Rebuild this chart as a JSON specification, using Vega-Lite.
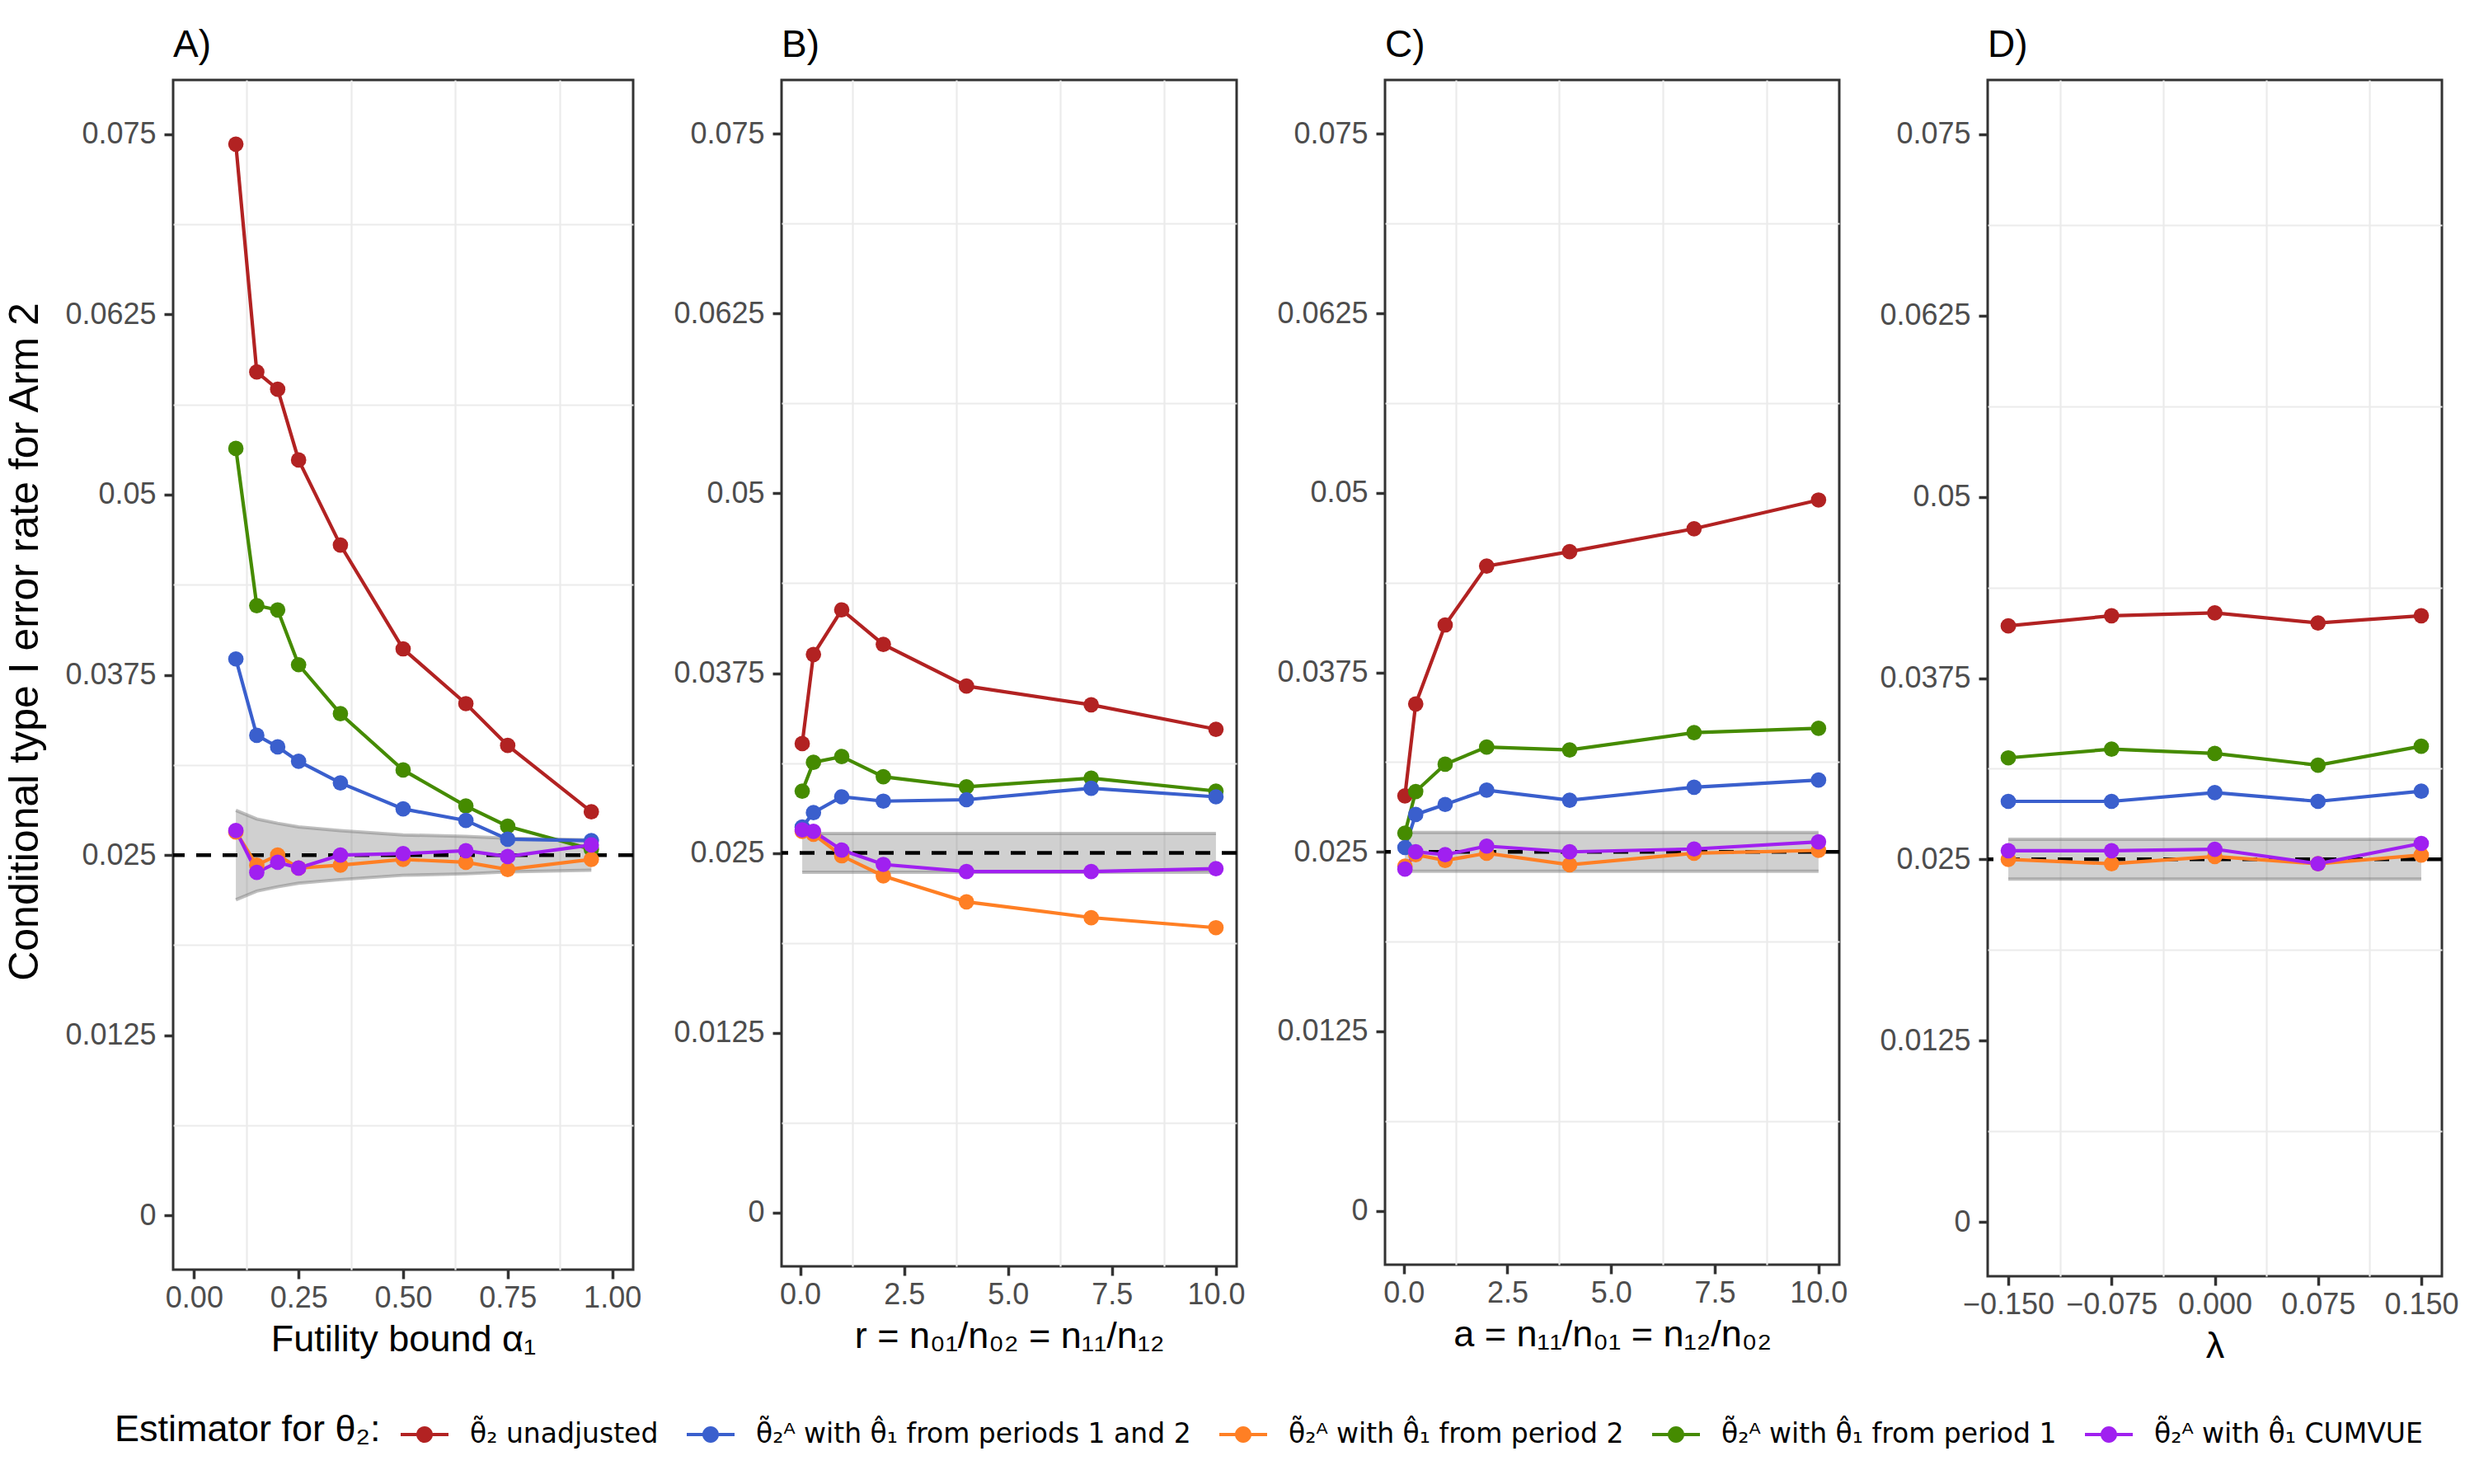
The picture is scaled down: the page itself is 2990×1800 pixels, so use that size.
{
  "$schema": "https://vega.github.io/schema/vega-lite/v6.json",
  "background": "white",
  "padding": {"left": 3, "top": 30, "right": 0, "bottom": 0},
  "bounds": "flush",
  "spacing": 180,
  "datasets": {
    "A": [
      {"x":0.1,"y":0.0743,"estimator":"\u03b8\u0303\u2082 unadjusted"},
      {"x":0.15,"y":0.0585,"estimator":"\u03b8\u0303\u2082 unadjusted"},
      {"x":0.2,"y":0.0573,"estimator":"\u03b8\u0303\u2082 unadjusted"},
      {"x":0.25,"y":0.0524,"estimator":"\u03b8\u0303\u2082 unadjusted"},
      {"x":0.35,"y":0.0465,"estimator":"\u03b8\u0303\u2082 unadjusted"},
      {"x":0.5,"y":0.0393,"estimator":"\u03b8\u0303\u2082 unadjusted"},
      {"x":0.65,"y":0.0355,"estimator":"\u03b8\u0303\u2082 unadjusted"},
      {"x":0.75,"y":0.0326,"estimator":"\u03b8\u0303\u2082 unadjusted"},
      {"x":0.95,"y":0.0280,"estimator":"\u03b8\u0303\u2082 unadjusted"},
      {"x":0.1,"y":0.0532,"estimator":"\u03b8\u0303\u2082\u1d2c with \u03b8\u0302\u2081 from period 1"},
      {"x":0.15,"y":0.0423,"estimator":"\u03b8\u0303\u2082\u1d2c with \u03b8\u0302\u2081 from period 1"},
      {"x":0.2,"y":0.0420,"estimator":"\u03b8\u0303\u2082\u1d2c with \u03b8\u0302\u2081 from period 1"},
      {"x":0.25,"y":0.0382,"estimator":"\u03b8\u0303\u2082\u1d2c with \u03b8\u0302\u2081 from period 1"},
      {"x":0.35,"y":0.0348,"estimator":"\u03b8\u0303\u2082\u1d2c with \u03b8\u0302\u2081 from period 1"},
      {"x":0.5,"y":0.0309,"estimator":"\u03b8\u0303\u2082\u1d2c with \u03b8\u0302\u2081 from period 1"},
      {"x":0.65,"y":0.0284,"estimator":"\u03b8\u0303\u2082\u1d2c with \u03b8\u0302\u2081 from period 1"},
      {"x":0.75,"y":0.0270,"estimator":"\u03b8\u0303\u2082\u1d2c with \u03b8\u0302\u2081 from period 1"},
      {"x":0.95,"y":0.0254,"estimator":"\u03b8\u0303\u2082\u1d2c with \u03b8\u0302\u2081 from period 1"},
      {"x":0.1,"y":0.0266,"estimator":"\u03b8\u0303\u2082\u1d2c with \u03b8\u0302\u2081 from period 2"},
      {"x":0.15,"y":0.0243,"estimator":"\u03b8\u0303\u2082\u1d2c with \u03b8\u0302\u2081 from period 2"},
      {"x":0.2,"y":0.0250,"estimator":"\u03b8\u0303\u2082\u1d2c with \u03b8\u0302\u2081 from period 2"},
      {"x":0.25,"y":0.0241,"estimator":"\u03b8\u0303\u2082\u1d2c with \u03b8\u0302\u2081 from period 2"},
      {"x":0.35,"y":0.0243,"estimator":"\u03b8\u0303\u2082\u1d2c with \u03b8\u0302\u2081 from period 2"},
      {"x":0.5,"y":0.0247,"estimator":"\u03b8\u0303\u2082\u1d2c with \u03b8\u0302\u2081 from period 2"},
      {"x":0.65,"y":0.0245,"estimator":"\u03b8\u0303\u2082\u1d2c with \u03b8\u0302\u2081 from period 2"},
      {"x":0.75,"y":0.0240,"estimator":"\u03b8\u0303\u2082\u1d2c with \u03b8\u0302\u2081 from period 2"},
      {"x":0.95,"y":0.0247,"estimator":"\u03b8\u0303\u2082\u1d2c with \u03b8\u0302\u2081 from period 2"},
      {"x":0.1,"y":0.0386,"estimator":"\u03b8\u0303\u2082\u1d2c with \u03b8\u0302\u2081 from periods 1 and 2"},
      {"x":0.15,"y":0.0333,"estimator":"\u03b8\u0303\u2082\u1d2c with \u03b8\u0302\u2081 from periods 1 and 2"},
      {"x":0.2,"y":0.0325,"estimator":"\u03b8\u0303\u2082\u1d2c with \u03b8\u0302\u2081 from periods 1 and 2"},
      {"x":0.25,"y":0.0315,"estimator":"\u03b8\u0303\u2082\u1d2c with \u03b8\u0302\u2081 from periods 1 and 2"},
      {"x":0.35,"y":0.0300,"estimator":"\u03b8\u0303\u2082\u1d2c with \u03b8\u0302\u2081 from periods 1 and 2"},
      {"x":0.5,"y":0.0282,"estimator":"\u03b8\u0303\u2082\u1d2c with \u03b8\u0302\u2081 from periods 1 and 2"},
      {"x":0.65,"y":0.0274,"estimator":"\u03b8\u0303\u2082\u1d2c with \u03b8\u0302\u2081 from periods 1 and 2"},
      {"x":0.75,"y":0.0261,"estimator":"\u03b8\u0303\u2082\u1d2c with \u03b8\u0302\u2081 from periods 1 and 2"},
      {"x":0.95,"y":0.0260,"estimator":"\u03b8\u0303\u2082\u1d2c with \u03b8\u0302\u2081 from periods 1 and 2"},
      {"x":0.1,"y":0.0267,"estimator":"\u03b8\u0303\u2082\u1d2c with \u03b8\u0302\u2081 CUMVUE"},
      {"x":0.15,"y":0.0238,"estimator":"\u03b8\u0303\u2082\u1d2c with \u03b8\u0302\u2081 CUMVUE"},
      {"x":0.2,"y":0.0245,"estimator":"\u03b8\u0303\u2082\u1d2c with \u03b8\u0302\u2081 CUMVUE"},
      {"x":0.25,"y":0.0241,"estimator":"\u03b8\u0303\u2082\u1d2c with \u03b8\u0302\u2081 CUMVUE"},
      {"x":0.35,"y":0.0250,"estimator":"\u03b8\u0303\u2082\u1d2c with \u03b8\u0302\u2081 CUMVUE"},
      {"x":0.5,"y":0.0251,"estimator":"\u03b8\u0303\u2082\u1d2c with \u03b8\u0302\u2081 CUMVUE"},
      {"x":0.65,"y":0.0253,"estimator":"\u03b8\u0303\u2082\u1d2c with \u03b8\u0302\u2081 CUMVUE"},
      {"x":0.75,"y":0.0249,"estimator":"\u03b8\u0303\u2082\u1d2c with \u03b8\u0302\u2081 CUMVUE"},
      {"x":0.95,"y":0.0257,"estimator":"\u03b8\u0303\u2082\u1d2c with \u03b8\u0302\u2081 CUMVUE"}
    ],
    "bandA": [
      {"x":0.1,"lo":0.0219,"hi":0.0281},
      {"x":0.15,"lo":0.0225,"hi":0.0275},
      {"x":0.2,"lo":0.0228,"hi":0.0272},
      {"x":0.25,"lo":0.02305,"hi":0.02695},
      {"x":0.35,"lo":0.0233,"hi":0.0267},
      {"x":0.5,"lo":0.0236,"hi":0.0264},
      {"x":0.65,"lo":0.0237,"hi":0.0263},
      {"x":0.75,"lo":0.02383,"hi":0.02617},
      {"x":0.95,"lo":0.02395,"hi":0.02605}
    ],
    "B": [
      {"x":0.05,"y":0.0326,"estimator":"\u03b8\u0303\u2082 unadjusted"},
      {"x":0.32,"y":0.0388,"estimator":"\u03b8\u0303\u2082 unadjusted"},
      {"x":1,"y":0.0419,"estimator":"\u03b8\u0303\u2082 unadjusted"},
      {"x":2,"y":0.0395,"estimator":"\u03b8\u0303\u2082 unadjusted"},
      {"x":4,"y":0.0366,"estimator":"\u03b8\u0303\u2082 unadjusted"},
      {"x":7,"y":0.0353,"estimator":"\u03b8\u0303\u2082 unadjusted"},
      {"x":10,"y":0.0336,"estimator":"\u03b8\u0303\u2082 unadjusted"},
      {"x":0.05,"y":0.0293,"estimator":"\u03b8\u0303\u2082\u1d2c with \u03b8\u0302\u2081 from period 1"},
      {"x":0.32,"y":0.0313,"estimator":"\u03b8\u0303\u2082\u1d2c with \u03b8\u0302\u2081 from period 1"},
      {"x":1,"y":0.0317,"estimator":"\u03b8\u0303\u2082\u1d2c with \u03b8\u0302\u2081 from period 1"},
      {"x":2,"y":0.0303,"estimator":"\u03b8\u0303\u2082\u1d2c with \u03b8\u0302\u2081 from period 1"},
      {"x":4,"y":0.0296,"estimator":"\u03b8\u0303\u2082\u1d2c with \u03b8\u0302\u2081 from period 1"},
      {"x":7,"y":0.0302,"estimator":"\u03b8\u0303\u2082\u1d2c with \u03b8\u0302\u2081 from period 1"},
      {"x":10,"y":0.0293,"estimator":"\u03b8\u0303\u2082\u1d2c with \u03b8\u0302\u2081 from period 1"},
      {"x":0.05,"y":0.0265,"estimator":"\u03b8\u0303\u2082\u1d2c with \u03b8\u0302\u2081 from period 2"},
      {"x":0.32,"y":0.0263,"estimator":"\u03b8\u0303\u2082\u1d2c with \u03b8\u0302\u2081 from period 2"},
      {"x":1,"y":0.0248,"estimator":"\u03b8\u0303\u2082\u1d2c with \u03b8\u0302\u2081 from period 2"},
      {"x":2,"y":0.0234,"estimator":"\u03b8\u0303\u2082\u1d2c with \u03b8\u0302\u2081 from period 2"},
      {"x":4,"y":0.0216,"estimator":"\u03b8\u0303\u2082\u1d2c with \u03b8\u0302\u2081 from period 2"},
      {"x":7,"y":0.0205,"estimator":"\u03b8\u0303\u2082\u1d2c with \u03b8\u0302\u2081 from period 2"},
      {"x":10,"y":0.0198,"estimator":"\u03b8\u0303\u2082\u1d2c with \u03b8\u0302\u2081 from period 2"},
      {"x":0.05,"y":0.0268,"estimator":"\u03b8\u0303\u2082\u1d2c with \u03b8\u0302\u2081 from periods 1 and 2"},
      {"x":0.32,"y":0.0278,"estimator":"\u03b8\u0303\u2082\u1d2c with \u03b8\u0302\u2081 from periods 1 and 2"},
      {"x":1,"y":0.0289,"estimator":"\u03b8\u0303\u2082\u1d2c with \u03b8\u0302\u2081 from periods 1 and 2"},
      {"x":2,"y":0.0286,"estimator":"\u03b8\u0303\u2082\u1d2c with \u03b8\u0302\u2081 from periods 1 and 2"},
      {"x":4,"y":0.0287,"estimator":"\u03b8\u0303\u2082\u1d2c with \u03b8\u0302\u2081 from periods 1 and 2"},
      {"x":7,"y":0.0295,"estimator":"\u03b8\u0303\u2082\u1d2c with \u03b8\u0302\u2081 from periods 1 and 2"},
      {"x":10,"y":0.0289,"estimator":"\u03b8\u0303\u2082\u1d2c with \u03b8\u0302\u2081 from periods 1 and 2"},
      {"x":0.05,"y":0.0266,"estimator":"\u03b8\u0303\u2082\u1d2c with \u03b8\u0302\u2081 CUMVUE"},
      {"x":0.32,"y":0.0265,"estimator":"\u03b8\u0303\u2082\u1d2c with \u03b8\u0302\u2081 CUMVUE"},
      {"x":1,"y":0.0252,"estimator":"\u03b8\u0303\u2082\u1d2c with \u03b8\u0302\u2081 CUMVUE"},
      {"x":2,"y":0.0242,"estimator":"\u03b8\u0303\u2082\u1d2c with \u03b8\u0302\u2081 CUMVUE"},
      {"x":4,"y":0.0237,"estimator":"\u03b8\u0303\u2082\u1d2c with \u03b8\u0302\u2081 CUMVUE"},
      {"x":7,"y":0.0237,"estimator":"\u03b8\u0303\u2082\u1d2c with \u03b8\u0302\u2081 CUMVUE"},
      {"x":10,"y":0.0239,"estimator":"\u03b8\u0303\u2082\u1d2c with \u03b8\u0302\u2081 CUMVUE"}
    ],
    "bandB": [
      {"x":0.05,"lo":0.02365,"hi":0.02635},
      {"x":10,"lo":0.02365,"hi":0.02635}
    ],
    "C": [
      {"x":0.03,"y":0.0289,"estimator":"\u03b8\u0303\u2082 unadjusted"},
      {"x":0.29,"y":0.0353,"estimator":"\u03b8\u0303\u2082 unadjusted"},
      {"x":1,"y":0.0408,"estimator":"\u03b8\u0303\u2082 unadjusted"},
      {"x":2,"y":0.0449,"estimator":"\u03b8\u0303\u2082 unadjusted"},
      {"x":4,"y":0.0459,"estimator":"\u03b8\u0303\u2082 unadjusted"},
      {"x":7,"y":0.0475,"estimator":"\u03b8\u0303\u2082 unadjusted"},
      {"x":10,"y":0.0495,"estimator":"\u03b8\u0303\u2082 unadjusted"},
      {"x":0.03,"y":0.0263,"estimator":"\u03b8\u0303\u2082\u1d2c with \u03b8\u0302\u2081 from period 1"},
      {"x":0.29,"y":0.0292,"estimator":"\u03b8\u0303\u2082\u1d2c with \u03b8\u0302\u2081 from period 1"},
      {"x":1,"y":0.0311,"estimator":"\u03b8\u0303\u2082\u1d2c with \u03b8\u0302\u2081 from period 1"},
      {"x":2,"y":0.0323,"estimator":"\u03b8\u0303\u2082\u1d2c with \u03b8\u0302\u2081 from period 1"},
      {"x":4,"y":0.0321,"estimator":"\u03b8\u0303\u2082\u1d2c with \u03b8\u0302\u2081 from period 1"},
      {"x":7,"y":0.0333,"estimator":"\u03b8\u0303\u2082\u1d2c with \u03b8\u0302\u2081 from period 1"},
      {"x":10,"y":0.0336,"estimator":"\u03b8\u0303\u2082\u1d2c with \u03b8\u0302\u2081 from period 1"},
      {"x":0.03,"y":0.0240,"estimator":"\u03b8\u0303\u2082\u1d2c with \u03b8\u0302\u2081 from period 2"},
      {"x":0.29,"y":0.0248,"estimator":"\u03b8\u0303\u2082\u1d2c with \u03b8\u0302\u2081 from period 2"},
      {"x":1,"y":0.0244,"estimator":"\u03b8\u0303\u2082\u1d2c with \u03b8\u0302\u2081 from period 2"},
      {"x":2,"y":0.0249,"estimator":"\u03b8\u0303\u2082\u1d2c with \u03b8\u0302\u2081 from period 2"},
      {"x":4,"y":0.0241,"estimator":"\u03b8\u0303\u2082\u1d2c with \u03b8\u0302\u2081 from period 2"},
      {"x":7,"y":0.0249,"estimator":"\u03b8\u0303\u2082\u1d2c with \u03b8\u0302\u2081 from period 2"},
      {"x":10,"y":0.0251,"estimator":"\u03b8\u0303\u2082\u1d2c with \u03b8\u0302\u2081 from period 2"},
      {"x":0.03,"y":0.0253,"estimator":"\u03b8\u0303\u2082\u1d2c with \u03b8\u0302\u2081 from periods 1 and 2"},
      {"x":0.29,"y":0.0276,"estimator":"\u03b8\u0303\u2082\u1d2c with \u03b8\u0302\u2081 from periods 1 and 2"},
      {"x":1,"y":0.0283,"estimator":"\u03b8\u0303\u2082\u1d2c with \u03b8\u0302\u2081 from periods 1 and 2"},
      {"x":2,"y":0.0293,"estimator":"\u03b8\u0303\u2082\u1d2c with \u03b8\u0302\u2081 from periods 1 and 2"},
      {"x":4,"y":0.0286,"estimator":"\u03b8\u0303\u2082\u1d2c with \u03b8\u0302\u2081 from periods 1 and 2"},
      {"x":7,"y":0.0295,"estimator":"\u03b8\u0303\u2082\u1d2c with \u03b8\u0302\u2081 from periods 1 and 2"},
      {"x":10,"y":0.0300,"estimator":"\u03b8\u0303\u2082\u1d2c with \u03b8\u0302\u2081 from periods 1 and 2"},
      {"x":0.03,"y":0.0238,"estimator":"\u03b8\u0303\u2082\u1d2c with \u03b8\u0302\u2081 CUMVUE"},
      {"x":0.29,"y":0.0250,"estimator":"\u03b8\u0303\u2082\u1d2c with \u03b8\u0302\u2081 CUMVUE"},
      {"x":1,"y":0.0248,"estimator":"\u03b8\u0303\u2082\u1d2c with \u03b8\u0302\u2081 CUMVUE"},
      {"x":2,"y":0.0254,"estimator":"\u03b8\u0303\u2082\u1d2c with \u03b8\u0302\u2081 CUMVUE"},
      {"x":4,"y":0.0250,"estimator":"\u03b8\u0303\u2082\u1d2c with \u03b8\u0302\u2081 CUMVUE"},
      {"x":7,"y":0.0252,"estimator":"\u03b8\u0303\u2082\u1d2c with \u03b8\u0302\u2081 CUMVUE"},
      {"x":10,"y":0.0257,"estimator":"\u03b8\u0303\u2082\u1d2c with \u03b8\u0302\u2081 CUMVUE"}
    ],
    "bandC": [
      {"x":0.03,"lo":0.02365,"hi":0.02635},
      {"x":10,"lo":0.02365,"hi":0.02635}
    ],
    "D": [
      {"x":-0.15,"y":0.0411,"estimator":"\u03b8\u0303\u2082 unadjusted"},
      {"x":-0.075,"y":0.0418,"estimator":"\u03b8\u0303\u2082 unadjusted"},
      {"x":0,"y":0.0420,"estimator":"\u03b8\u0303\u2082 unadjusted"},
      {"x":0.075,"y":0.0413,"estimator":"\u03b8\u0303\u2082 unadjusted"},
      {"x":0.15,"y":0.0418,"estimator":"\u03b8\u0303\u2082 unadjusted"},
      {"x":-0.15,"y":0.0320,"estimator":"\u03b8\u0303\u2082\u1d2c with \u03b8\u0302\u2081 from period 1"},
      {"x":-0.075,"y":0.0326,"estimator":"\u03b8\u0303\u2082\u1d2c with \u03b8\u0302\u2081 from period 1"},
      {"x":0,"y":0.0323,"estimator":"\u03b8\u0303\u2082\u1d2c with \u03b8\u0302\u2081 from period 1"},
      {"x":0.075,"y":0.0315,"estimator":"\u03b8\u0303\u2082\u1d2c with \u03b8\u0302\u2081 from period 1"},
      {"x":0.15,"y":0.0328,"estimator":"\u03b8\u0303\u2082\u1d2c with \u03b8\u0302\u2081 from period 1"},
      {"x":-0.15,"y":0.0250,"estimator":"\u03b8\u0303\u2082\u1d2c with \u03b8\u0302\u2081 from period 2"},
      {"x":-0.075,"y":0.0247,"estimator":"\u03b8\u0303\u2082\u1d2c with \u03b8\u0302\u2081 from period 2"},
      {"x":0,"y":0.0252,"estimator":"\u03b8\u0303\u2082\u1d2c with \u03b8\u0302\u2081 from period 2"},
      {"x":0.075,"y":0.0247,"estimator":"\u03b8\u0303\u2082\u1d2c with \u03b8\u0302\u2081 from period 2"},
      {"x":0.15,"y":0.0253,"estimator":"\u03b8\u0303\u2082\u1d2c with \u03b8\u0302\u2081 from period 2"},
      {"x":-0.15,"y":0.0290,"estimator":"\u03b8\u0303\u2082\u1d2c with \u03b8\u0302\u2081 from periods 1 and 2"},
      {"x":-0.075,"y":0.0290,"estimator":"\u03b8\u0303\u2082\u1d2c with \u03b8\u0302\u2081 from periods 1 and 2"},
      {"x":0,"y":0.0296,"estimator":"\u03b8\u0303\u2082\u1d2c with \u03b8\u0302\u2081 from periods 1 and 2"},
      {"x":0.075,"y":0.0290,"estimator":"\u03b8\u0303\u2082\u1d2c with \u03b8\u0302\u2081 from periods 1 and 2"},
      {"x":0.15,"y":0.0297,"estimator":"\u03b8\u0303\u2082\u1d2c with \u03b8\u0302\u2081 from periods 1 and 2"},
      {"x":-0.15,"y":0.0256,"estimator":"\u03b8\u0303\u2082\u1d2c with \u03b8\u0302\u2081 CUMVUE"},
      {"x":-0.075,"y":0.0256,"estimator":"\u03b8\u0303\u2082\u1d2c with \u03b8\u0302\u2081 CUMVUE"},
      {"x":0,"y":0.0257,"estimator":"\u03b8\u0303\u2082\u1d2c with \u03b8\u0302\u2081 CUMVUE"},
      {"x":0.075,"y":0.0247,"estimator":"\u03b8\u0303\u2082\u1d2c with \u03b8\u0302\u2081 CUMVUE"},
      {"x":0.15,"y":0.0261,"estimator":"\u03b8\u0303\u2082\u1d2c with \u03b8\u0302\u2081 CUMVUE"}
    ],
    "bandD": [
      {"x":-0.15,"lo":0.02364,"hi":0.02638},
      {"x":0.15,"lo":0.02364,"hi":0.02638}
    ],
    "ref": [{"level":0.025}]
  },
  "config": {
    "font": "Liberation Sans",
    "view": {"stroke": "#333333", "strokeWidth": 3},
    "axis": {
      "labelFontSize": 36, "labelColor": "#4d4d4d", "labelFont": "Liberation Sans",
      "tickColor": "#333333", "tickWidth": 3.5, "tickSize": 11,
      "domain": false, "gridColor": "#ebebeb", "gridWidth": 4.2,
      "titleFontSize": 45, "titleFontWeight": "normal", "titleColor": "#000000",
      "titleFont": "Liberation Sans",
      "labelFlush": false, "labelOverlap": false
    },
    "axisY": {"labelPadding": 10, "titleFontSize": 50, "titlePadding": 30},
    "axisX": {"labelPadding": 6, "titlePadding": 10},
    "title": {"fontSize": 46, "fontWeight": "normal", "anchor": "start", "color": "#000000", "offset": 18, "frame": "group", "font": "Liberation Sans"},
    "legend": {
      "titleFontSize": 45, "titleFontWeight": "normal", "titleColor": "#000000", "titleFont": "Liberation Sans",
      "titleLimit": 3000,
      "labelFontSize": 33, "labelColor": "#000000", "labelFont": "DejaVu Sans",
      "labelLimit": 3000
    }
  },
  "resolve": {"scale": {"x": "independent", "y": "independent", "color": "shared"}, "legend": {"color": "shared"}},
  "hconcat": [
    {
      "width": 558, "height": 1443,
      "title": {"text": "A)"},
      "resolve": {"axis": {"x": "independent", "y": "independent"}},
      "layer": [
        {
          "data": {"name": "bandA"},
          "mark": {"type": "area", "color": "#7f7f7f", "opacity": 0.37},
          "encoding": {
            "x": {"field": "x", "type": "quantitative", "scale": {"domain": [-0.05, 1.05], "nice": false, "zero": false},
                  "axis": {"orient": "top", "values": [0.125, 0.375, 0.625, 0.875], "grid": true, "gridWidth": 2.2, "labels": false, "ticks": false, "domain": false, "title": null}},
            "y": {"field": "lo", "type": "quantitative", "scale": {"domain": [-0.00375, 0.07875], "nice": false, "zero": false},
                  "axis": {"orient": "right", "values": [0.00625, 0.01875, 0.03125, 0.04375, 0.05625, 0.06875], "grid": true, "gridWidth": 2.2, "labels": false, "ticks": false, "domain": false, "title": null}},
            "y2": {"field": "hi"}
          }
        },
        {
          "data": {"name": "bandA"},
          "mark": {"type": "line", "color": "#808080", "opacity": 0.5, "strokeWidth": 4},
          "encoding": {"x": {"field": "x", "type": "quantitative", "axis": null}, "y": {"field": "lo", "type": "quantitative", "axis": null}}
        },
        {
          "data": {"name": "bandA"},
          "mark": {"type": "line", "color": "#808080", "opacity": 0.5, "strokeWidth": 4},
          "encoding": {"x": {"field": "x", "type": "quantitative", "axis": null}, "y": {"field": "hi", "type": "quantitative", "axis": null}}
        },
        {
          "data": {"name": "ref"},
          "mark": {"type": "rule", "color": "#000000", "strokeDash": [18, 14], "strokeWidth": 4.5},
          "encoding": {"y": {"field": "level", "type": "quantitative", "axis": null}}
        },
        {
          "data": {"name": "A"},
          "mark": {"type": "line", "strokeWidth": 4.2},
          "encoding": {
            "x": {"field": "x", "type": "quantitative", "axis": {"orient": "bottom", "values": [0, 0.25, 0.5, 0.75, 1], "format": ".2f", "title": "Futility bound \u03b1\u2081"}},
            "y": {"field": "y", "type": "quantitative", "axis": {"orient": "left", "values": [0, 0.0125, 0.025, 0.0375, 0.05, 0.0625, 0.075], "format": ".4~g", "title": "Conditional type I error rate for Arm 2", "titleX": -155, "titleY": 681}},
            "color": {"field": "estimator", "type": "nominal",
                      "scale": {"domain": ["\u03b8\u0303\u2082 unadjusted", "\u03b8\u0303\u2082\u1d2c with \u03b8\u0302\u2081 from periods 1 and 2", "\u03b8\u0303\u2082\u1d2c with \u03b8\u0302\u2081 from period 2", "\u03b8\u0303\u2082\u1d2c with \u03b8\u0302\u2081 from period 1", "\u03b8\u0303\u2082\u1d2c with \u03b8\u0302\u2081 CUMVUE"],
                                "range": ["#b22222", "#3a5fcd", "#ff7f24", "#458b00", "#a020f0"]}}
          }
        },
        {
          "data": {"name": "A"},
          "mark": {"type": "point", "filled": true, "opacity": 1, "size": 350},
          "encoding": {
            "x": {"field": "x", "type": "quantitative", "axis": null},
            "y": {"field": "y", "type": "quantitative", "axis": null},
            "color": {"field": "estimator", "type": "nominal", "legend": {
              "title": "Estimator for \u03b8\u2082:", "orient": "none", "legendX": -71, "legendY": 1614,
              "direction": "horizontal", "titleOrient": "left",
              "titlePadding": 24, "labelOffset": 26, "columnPadding": 34,
              "symbolType": "M-1,-0.07H-0.34V0.07H-1Z M0.34,-0.07H1V0.07H0.34Z M0.345,0A0.345,0.345,0,1,1,-0.345,0A0.345,0.345,0,1,1,0.345,0Z",
              "symbolSize": 3364, "symbolStrokeWidth": 0, "symbolOpacity": 1}}
          }
        }
      ]
    },
    {
      "width": 552, "height": 1439,
      "title": {"text": "B)"},
      "resolve": {"axis": {"x": "independent", "y": "independent"}},
      "layer": [
        {
          "data": {"name": "bandB"},
          "mark": {"type": "area", "color": "#7f7f7f", "opacity": 0.37},
          "encoding": {
            "x": {"field": "x", "type": "quantitative", "scale": {"domain": [-0.4475, 10.4975], "nice": false, "zero": false},
                  "axis": {"orient": "top", "values": [1.25, 3.75, 6.25, 8.75], "grid": true, "gridWidth": 2.2, "labels": false, "ticks": false, "domain": false, "title": null}},
            "y": {"field": "lo", "type": "quantitative", "scale": {"domain": [-0.00375, 0.07875], "nice": false, "zero": false},
                  "axis": {"orient": "right", "values": [0.00625, 0.01875, 0.03125, 0.04375, 0.05625, 0.06875], "grid": true, "gridWidth": 2.2, "labels": false, "ticks": false, "domain": false, "title": null}},
            "y2": {"field": "hi"}
          }
        },
        {
          "data": {"name": "bandB"},
          "mark": {"type": "line", "color": "#808080", "opacity": 0.5, "strokeWidth": 4},
          "encoding": {"x": {"field": "x", "type": "quantitative", "axis": null}, "y": {"field": "lo", "type": "quantitative", "axis": null}}
        },
        {
          "data": {"name": "bandB"},
          "mark": {"type": "line", "color": "#808080", "opacity": 0.5, "strokeWidth": 4},
          "encoding": {"x": {"field": "x", "type": "quantitative", "axis": null}, "y": {"field": "hi", "type": "quantitative", "axis": null}}
        },
        {
          "data": {"name": "ref"},
          "mark": {"type": "rule", "color": "#000000", "strokeDash": [18, 14], "strokeWidth": 4.5},
          "encoding": {"y": {"field": "level", "type": "quantitative", "axis": null}}
        },
        {
          "data": {"name": "B"},
          "mark": {"type": "line", "strokeWidth": 4.2},
          "encoding": {
            "x": {"field": "x", "type": "quantitative", "axis": {"orient": "bottom", "values": [0, 2.5, 5, 7.5, 10], "format": ".1f", "title": "r = n\u2080\u2081/n\u2080\u2082 = n\u2081\u2081/n\u2081\u2082"}},
            "y": {"field": "y", "type": "quantitative", "axis": {"orient": "left", "values": [0, 0.0125, 0.025, 0.0375, 0.05, 0.0625, 0.075], "format": ".4~g", "title": null}},
            "color": {"field": "estimator", "type": "nominal"}
          }
        },
        {
          "data": {"name": "B"},
          "mark": {"type": "point", "filled": true, "opacity": 1, "size": 350},
          "encoding": {
            "x": {"field": "x", "type": "quantitative", "axis": null},
            "y": {"field": "y", "type": "quantitative", "axis": null},
            "color": {"field": "estimator", "type": "nominal"}
          }
        }
      ]
    },
    {
      "width": 551, "height": 1437,
      "title": {"text": "C)"},
      "resolve": {"axis": {"x": "independent", "y": "independent"}},
      "layer": [
        {
          "data": {"name": "bandC"},
          "mark": {"type": "area", "color": "#7f7f7f", "opacity": 0.37},
          "encoding": {
            "x": {"field": "x", "type": "quantitative", "scale": {"domain": [-0.45, 10.5], "nice": false, "zero": false},
                  "axis": {"orient": "top", "values": [1.25, 3.75, 6.25, 8.75], "grid": true, "gridWidth": 2.2, "labels": false, "ticks": false, "domain": false, "title": null}},
            "y": {"field": "lo", "type": "quantitative", "scale": {"domain": [-0.00375, 0.07875], "nice": false, "zero": false},
                  "axis": {"orient": "right", "values": [0.00625, 0.01875, 0.03125, 0.04375, 0.05625, 0.06875], "grid": true, "gridWidth": 2.2, "labels": false, "ticks": false, "domain": false, "title": null}},
            "y2": {"field": "hi"}
          }
        },
        {
          "data": {"name": "bandC"},
          "mark": {"type": "line", "color": "#808080", "opacity": 0.5, "strokeWidth": 4},
          "encoding": {"x": {"field": "x", "type": "quantitative", "axis": null}, "y": {"field": "lo", "type": "quantitative", "axis": null}}
        },
        {
          "data": {"name": "bandC"},
          "mark": {"type": "line", "color": "#808080", "opacity": 0.5, "strokeWidth": 4},
          "encoding": {"x": {"field": "x", "type": "quantitative", "axis": null}, "y": {"field": "hi", "type": "quantitative", "axis": null}}
        },
        {
          "data": {"name": "ref"},
          "mark": {"type": "rule", "color": "#000000", "strokeDash": [18, 14], "strokeWidth": 4.5},
          "encoding": {"y": {"field": "level", "type": "quantitative", "axis": null}}
        },
        {
          "data": {"name": "C"},
          "mark": {"type": "line", "strokeWidth": 4.2},
          "encoding": {
            "x": {"field": "x", "type": "quantitative", "axis": {"orient": "bottom", "values": [0, 2.5, 5, 7.5, 10], "format": ".1f", "title": "a = n\u2081\u2081/n\u2080\u2081 = n\u2081\u2082/n\u2080\u2082"}},
            "y": {"field": "y", "type": "quantitative", "axis": {"orient": "left", "values": [0, 0.0125, 0.025, 0.0375, 0.05, 0.0625, 0.075], "format": ".4~g", "title": null}},
            "color": {"field": "estimator", "type": "nominal"}
          }
        },
        {
          "data": {"name": "C"},
          "mark": {"type": "point", "filled": true, "opacity": 1, "size": 350},
          "encoding": {
            "x": {"field": "x", "type": "quantitative", "axis": null},
            "y": {"field": "y", "type": "quantitative", "axis": null},
            "color": {"field": "estimator", "type": "nominal"}
          }
        }
      ]
    },
    {
      "width": 551, "height": 1451,
      "title": {"text": "D)"},
      "resolve": {"axis": {"x": "independent", "y": "independent"}},
      "layer": [
        {
          "data": {"name": "bandD"},
          "mark": {"type": "area", "color": "#7f7f7f", "opacity": 0.37},
          "encoding": {
            "x": {"field": "x", "type": "quantitative", "scale": {"domain": [-0.165, 0.165], "nice": false, "zero": false},
                  "axis": {"orient": "top", "values": [-0.1125, -0.0375, 0.0375, 0.1125], "grid": true, "gridWidth": 2.2, "labels": false, "ticks": false, "domain": false, "title": null}},
            "y": {"field": "lo", "type": "quantitative", "scale": {"domain": [-0.00375, 0.07875], "nice": false, "zero": false},
                  "axis": {"orient": "right", "values": [0.00625, 0.01875, 0.03125, 0.04375, 0.05625, 0.06875], "grid": true, "gridWidth": 2.2, "labels": false, "ticks": false, "domain": false, "title": null}},
            "y2": {"field": "hi"}
          }
        },
        {
          "data": {"name": "bandD"},
          "mark": {"type": "line", "color": "#808080", "opacity": 0.5, "strokeWidth": 4},
          "encoding": {"x": {"field": "x", "type": "quantitative", "axis": null}, "y": {"field": "lo", "type": "quantitative", "axis": null}}
        },
        {
          "data": {"name": "bandD"},
          "mark": {"type": "line", "color": "#808080", "opacity": 0.5, "strokeWidth": 4},
          "encoding": {"x": {"field": "x", "type": "quantitative", "axis": null}, "y": {"field": "hi", "type": "quantitative", "axis": null}}
        },
        {
          "data": {"name": "ref"},
          "mark": {"type": "rule", "color": "#000000", "strokeDash": [18, 14], "strokeWidth": 4.5},
          "encoding": {"y": {"field": "level", "type": "quantitative", "axis": null}}
        },
        {
          "data": {"name": "D"},
          "mark": {"type": "line", "strokeWidth": 4.2},
          "encoding": {
            "x": {"field": "x", "type": "quantitative", "axis": {"orient": "bottom", "values": [-0.15, -0.075, 0, 0.075, 0.15], "format": ".3f", "title": "\u03bb"}},
            "y": {"field": "y", "type": "quantitative", "axis": {"orient": "left", "values": [0, 0.0125, 0.025, 0.0375, 0.05, 0.0625, 0.075], "format": ".4~g", "title": null}},
            "color": {"field": "estimator", "type": "nominal"}
          }
        },
        {
          "data": {"name": "D"},
          "mark": {"type": "point", "filled": true, "opacity": 1, "size": 350},
          "encoding": {
            "x": {"field": "x", "type": "quantitative", "axis": null},
            "y": {"field": "y", "type": "quantitative", "axis": null},
            "color": {"field": "estimator", "type": "nominal"}
          }
        }
      ]
    }
  ]
}
